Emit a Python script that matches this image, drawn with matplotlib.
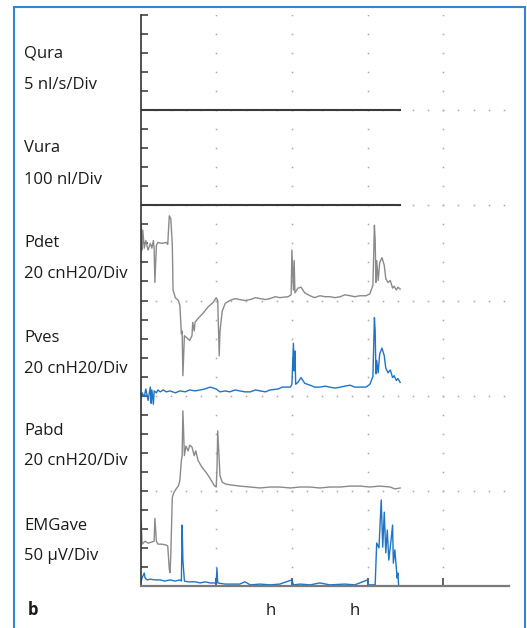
import numpy as np
import matplotlib
matplotlib.use("Agg")
import matplotlib.pyplot as plt
from matplotlib.patches import Rectangle

plt.rcParams['font.family'] = ['Open Sans', 'DejaVu Sans']

# time axis in divisions, values in physical units
pdet_t = [0.0, 0.01, 0.02, 0.03, 0.05, 0.07, 0.10, 0.13, 0.15, 0.17, 0.18, 0.19, 0.21, 0.23, 0.28,
          0.34, 0.36, 0.38, 0.40, 0.42, 0.43, 0.46, 0.50, 0.52, 0.54, 0.55, 0.56, 0.58, 0.61, 0.65,
          0.68, 0.69, 0.71, 0.72, 0.76, 0.83, 0.89, 0.96, 1.00, 1.02, 1.04, 1.05, 1.08, 1.12, 1.18,
          1.25, 1.31, 1.38, 1.45, 1.52, 1.58, 1.65, 1.71, 1.78, 1.84, 1.95, 1.99, 2.00, 2.02, 2.03,
          2.04, 2.08, 2.12, 2.17, 2.24, 2.30, 2.37, 2.44, 2.50, 2.57, 2.64, 2.70, 2.77, 2.83, 2.90,
          2.98, 3.03, 3.07, 3.09, 3.10, 3.11, 3.12, 3.14, 3.16, 3.19, 3.22, 3.24, 3.27, 3.30, 3.33,
          3.35, 3.38, 3.40, 3.43]
pdet = [47, 82, 53, 74, 55, 63, 53, 60, 55, 63, 55, 19, 58, 61, 60,
        61, 59, 89, 86, 59, 11, 3, 0, -5, -35, -32, -79, -37, -39, -42,
        -37, -23, -32, -23, -19, -13, -7, -2, 3, 0, -58, -32, -11, -3, 0,
        2, 1, 0, 1, 3, 2, 1, 2, 4, 3, 4, 6, 53, 11, 42,
        8, 13, 14, 8, 5, 3, 5, 4, 4, 3, 4, 6, 5, 4, 5,
        5, 7, 16, 79, 63, 19, 42, 21, 40, 45, 37, 23, 19, 21, 13,
        15, 11, 14, 12]

pves_t = [0.01, 0.02, 0.05, 0.07, 0.10, 0.13, 0.14, 0.15, 0.17, 0.18, 0.21, 0.23, 0.26, 0.30,
          0.34, 0.39, 0.46, 0.52, 0.59, 0.65, 0.72, 0.79, 0.85, 0.92, 0.96, 1.00, 1.05, 1.12,
          1.18, 1.25, 1.31, 1.38, 1.45, 1.52, 1.58, 1.65, 1.71, 1.82, 1.87, 1.98, 2.00, 2.02,
          2.03, 2.04, 2.05, 2.08, 2.12, 2.17, 2.24, 2.30, 2.37, 2.44, 2.50, 2.57, 2.64, 2.70,
          2.77, 2.83, 2.90, 2.98, 3.03, 3.07, 3.09, 3.10, 3.11, 3.12, 3.14, 3.16, 3.19, 3.22,
          3.24, 3.27, 3.30, 3.33, 3.35, 3.38, 3.40, 3.43]
pves = [-3, 3, -1, 7, -5, 9, -8, 6, -9, 5, 3, 6, 4, 6,
        4, 5, 3, 5, 4, 6, 5, 6, 7, 9, 8, 7, 4, 5,
        4, 6, 5, 4, 4, 6, 5, 4, 6, 7, 9, 9, 12, 55,
        26, 47, 12, 14, 19, 13, 11, 9, 9, 10, 9, 8, 9, 10,
        11, 9, 9, 9, 12, 20, 82, 68, 23, 37, 24, 44, 50, 42,
        29, 24, 27, 19, 21, 16, 18, 14]

pabd_t = [0.0, 0.01, 0.02, 0.06, 0.10, 0.14, 0.18, 0.19, 0.21, 0.23, 0.28, 0.34, 0.36, 0.38,
          0.39, 0.40, 0.42, 0.44, 0.47, 0.50, 0.52, 0.54, 0.55, 0.56, 0.58, 0.60, 0.63, 0.65,
          0.68, 0.71, 0.73, 0.76, 0.81, 0.87, 0.92, 0.97, 1.00, 1.01, 1.02, 1.04, 1.05, 1.08,
          1.13, 1.21, 1.31, 1.45, 1.58, 1.71, 1.84, 1.98, 2.11, 2.24, 2.37, 2.50, 2.64, 2.77,
          2.90, 3.03, 3.16, 3.30, 3.36, 3.43]
pabd = [-53, -32, -56, -53, -55, -54, -53, -29, -53, -56, -56, -57, -58, -82,
        -86, -68, -7, -2, 2, 5, 11, 32, 37, 84, 37, 47, 42, 48,
        46, 37, 42, 32, 25, 19, 13, 6, 4, 21, 63, 32, 16, 9,
        7, 6, 5, 4, 3, 4, 4, 3, 4, 4, 3, 4, 4, 5,
        5, 4, 5, 4, 2, 3]

emg_t = [0.01, 0.02, 0.05, 0.06, 0.09, 0.13, 0.19, 0.26, 0.32, 0.39, 0.46, 0.52, 0.54, 0.55,
         0.56, 0.58, 0.63, 0.72, 0.79, 0.85, 0.92, 1.00, 1.01, 1.02, 1.12, 1.31, 1.38, 1.45,
         1.58, 1.71, 1.84, 2.00, 2.02, 2.11, 2.24, 2.37, 2.50, 2.70, 2.83, 3.00, 3.01, 3.10,
         3.12, 3.15, 3.18, 3.20, 3.22, 3.24, 3.26, 3.28, 3.31, 3.33, 3.34, 3.36, 3.39, 3.40,
         3.41, 3.43]
emg = [13, 21, 34, 21, 16, 18, 16, 16, 13, 16, 13, 16, 13, 160,
       68, 13, 11, 11, 8, 11, 8, 8, 47, 8, 5, 5, 11, 3,
       5, 3, 5, 16, 3, 5, 3, 8, 3, 5, 3, 16, 3, 3,
       113, 100, 226, 102, 194, 87, 147, 68, 121, 160, 60, 95, 21, 34,
       0, 0]

flow_t = [0.0, 3.43]
qura = [0, 0]
vura = [0, 0]

labels = ["Qura", "Vura", "Pdet", "Pves", "Pabd", "EMGave"]
units = ["5 nl/s/Div", "100 nl/Div", "20 cnH20/Div", "20 cnH20/Div", "20 cnH20/Div", "50 µV/Div"]
label_base_px = [58, 152, 247, 342, 435, 530]
unit_base_px = [89, 184, 278, 373, 465, 560]

W, H = 527, 628
fig = plt.figure(figsize=(W / 100, H / 100), dpi=100)
x0, x1, y0, y1 = 140.5, 509, 15, 586
ax = fig.add_axes([x0 / W, 1 - y1 / H, (x1 - x0) / W, (y1 - y0) / H])
xdiv = 75.7
ax.set_xlim(0, (x1 - x0) / xdiv)
ax.set_ylim(0, 30)

gray = "#8a8a8a"
blue = "#1f74c6"

# grid dots
gx, gy = np.meshgrid([1, 2, 3, 4], np.arange(1, 31))
ax.plot(gx.ravel(), gy.ravel(), ls="none", marker="s", ms=1.1, mew=0, color="#a8a8a8")
rx, ry = np.meshgrid(np.arange(0.2, 4.81, 0.2), [5, 10, 15, 20, 25])
ax.plot(rx.ravel(), ry.ravel(), ls="none", marker="s", ms=1.1, mew=0, color="#a8a8a8")

# traces (channel baselines stacked by 5 divisions)
ax.plot(flow_t, np.array(qura) / 5 + 25, color="#3a3a3a", lw=1.5)
ax.plot(flow_t, np.array(vura) / 100 + 20, color="#3a3a3a", lw=1.5)
ax.plot(pdet_t, np.array(pdet) / 20 + 15, color=gray, lw=1.0)
ax.plot(pabd_t, np.array(pabd) / 20 + 5, color=gray, lw=1.0)
ax.plot(pves_t, np.array(pves) / 20 + 10, color=blue, lw=1.0)
ax.plot(emg_t, np.array(emg) / 50, color=blue, lw=1.0)

for s in ["top", "right"]:
    ax.spines[s].set_visible(False)
ax.spines["left"].set_color("#333333")
ax.spines["left"].set_linewidth(1.2)
ax.spines["bottom"].set_color("#7a7a7a")
ax.spines["bottom"].set_linewidth(1.6)
ax.set_yticks(np.arange(0, 31))
ax.set_xticks([1, 2, 3, 4])
ax.tick_params(axis="y", direction="in", length=5, width=1.1, color="#333333", labelleft=False)
ax.tick_params(axis="x", direction="in", length=6, width=1.3, color="#555555", labelbottom=False)
ax.patch.set_alpha(0)

fs = 12
for lab, unit, yb, yu in zip(labels, units, label_base_px, unit_base_px):
    fig.text(24 / W, 1 - yb / H, lab, fontsize=fs, va="baseline", ha="left", color="#1a1a1a")
    fig.text(24 / W, 1 - yu / H, unit, fontsize=fs, va="baseline", ha="left", color="#1a1a1a")

fig.text(28 / W, 1 - 615 / H, "b", fontsize=fs, fontweight="bold", va="baseline", ha="left", color="#1a1a1a")
fig.text(271 / W, 1 - 615 / H, "h", fontsize=fs, va="baseline", ha="center", color="#1a1a1a")
fig.text(355 / W, 1 - 615 / H, "h", fontsize=fs, va="baseline", ha="center", color="#1a1a1a")

fig.patches.append(Rectangle((14 / W, -0.05), (525 - 14) / W, 1.05 - 7 / H, transform=fig.transFigure,
                             fill=False, edgecolor="#3585cc", lw=1.5))

fig.savefig("out.png", dpi=100)
